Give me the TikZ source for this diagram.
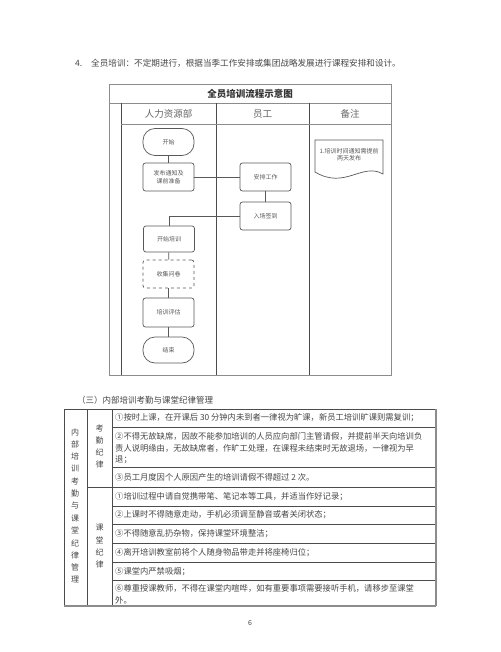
\documentclass[tikz,border=0pt]{standalone}
\usepackage{fontspec}
\setmainfont{Noto Sans CJK SC}
\usetikzlibrary{positioning}
\begin{document}
\begin{tikzpicture}[x=1pt,y=-1pt,
  txt/.style={text=black!72,inner sep=0pt},
  body/.style={txt,anchor=west,font=\fontsize{8.3}{10}\selectfont},
  vchar/.style={txt,font=\fontsize{8}{9}\selectfont},
  fbox/.style={draw=black!65,line width=0.7pt,rounded corners=2.5pt,minimum width=51pt,minimum height=28pt,text=black!65,font=\fontsize{6}{7.5}\selectfont,align=center,inner sep=1pt},
  fterm/.style={fbox,rounded corners=12pt,minimum height=27pt},
  fline/.style={draw=black!65,line width=0.7pt},
  pool/.style={draw=black!45,line width=0.7pt},
  lane/.style={draw=black!70,line width=0.7pt},
  hdr/.style={text=black!60,inner sep=0pt,font=\fontsize{9.5}{11}\selectfont},
  tline/.style={draw=black!70,line width=0.7pt},
  tedge/.style={draw=black!45,line width=1.2pt}]
\fill[white] (0,0) rectangle (500,652);
\useasboundingbox (0,0) rectangle (500,652);

% top paragraph line
\node[body,font=\fontsize{8.6}{10}\selectfont] (num4) at (75,63) {4.};
\node[body,font=\fontsize{8.6}{10}\selectfont] (para) at (91,63) {全员培训：不定期进行，根据当季工作安排或集团战略发展进行课程安排和设计。};

% ---------- flowchart frame ----------
\draw[pool] (109,84) rectangle (391,375);
\draw[pool] (109,103) -- (391,103);
\draw[lane] (121,103) -- (121,375);
\draw[lane] (216,103) -- (216,375);
\draw[lane] (309,103) -- (309,375);
\draw[pool] (121,124) -- (391,124);
\node[hdr,font=\bfseries\fontsize{9.5}{11}\selectfont,text=black!80] (title) at (250,94) {全员培训流程示意图};
\node[hdr] (h1) at (168.5,114) {人力资源部};
\node[hdr] (h2) at (262.5,114) {员工};
\node[hdr] (h3) at (350,114) {备注};

% ---------- flowchart nodes ----------
\node[fterm] (start) at (168.5,142) {开始};
\node[fbox] (fabu) at (168.5,177) {发布通知及\\课前准备};
\node[fbox] (anpai) at (265.5,177) {安排工作};
\node[fbox] (ruchang) at (265.5,216) {入场签到};
\node[fbox,minimum height=26pt] (kaishi) at (169,239) {开始培训};
\node[fbox,dashed] (shouji) at (168.5,274) {收集问卷};
\node[fbox,minimum height=29pt] (pinggu) at (168.5,312.5) {培训评估};
\node[fterm,minimum height=26pt] (jieshu) at (168.5,350) {结束};

\draw[fline] (start) -- (fabu);
\draw[fline] (fabu) -- (anpai);
\draw[fline] (anpai) -- (ruchang);
\draw[fline] (ruchang.west) -| (kaishi.north);
\draw[fline] (kaishi) -- (shouji);
\draw[fline] (shouji) -- (pinggu);
\draw[fline] (pinggu) -- (jieshu);

% document shape (note)
\draw[fline,fill=white] (315,140) -- (383,140) -- (383,174)
  .. controls (362,162) and (345,190) .. (315,172) -- cycle;
\node[txt,text=black!65,font=\fontsize{6}{7.5}\selectfont,align=center] (note) at (349,154.5) {1.培训时间通知需提前\\两天发布};

% ---------- section heading ----------
\node[body,font=\fontsize{8.5}{10}\selectfont] (sec) at (77,400) {（三）内部培训考勤与课堂纪律管理};

% ---------- table ----------
\draw[tline] (64,409) -- (436,409);
\draw[tline] (64,409) -- (64,606);
\draw[tline] (87,409) -- (87,606);
\draw[tline] (112,409) -- (112,606);
\draw[tline] (112,427) -- (436,427);
\draw[tline] (112,467) -- (436,467);
\draw[tline] (87,487) -- (436,487);
\draw[tline] (112,506) -- (436,506);
\draw[tline] (112,524) -- (436,524);
\draw[tline] (112,543) -- (436,543);
\draw[tline] (112,562) -- (436,562);
\draw[tline] (112,580) -- (436,580);
\draw[tedge] (436,409) -- (436,606);
\draw[tedge] (64,606) -- (436,606);

% vertical labels
\foreach \c [count=\i from 0] in {内,部,培,训,考,勤,与,课,堂,纪,律,管,理}
  \node[vchar] (va\i) at (75,432+12.33*\i) {\c};
\foreach \c [count=\i from 0] in {考,勤,纪,律}
  \node[vchar] (vb\i) at (99.5,428+12.3*\i) {\c};
\foreach \c [count=\i from 0] in {课,堂,纪,律}
  \node[vchar] (vc\i) at (99.5,528+12*\i) {\c};

% row texts
\node[body] (r1) at (115,418) {①按时上课，在开课后 30 分钟内未到者一律视为旷课，新员工培训旷课则需复训；};
\node[body] (r2a) at (115,436) {②不得无故缺席，因故不能参加培训的人员应向部门主管请假，并提前半天向培训负};
\node[body] (r2b) at (115,448) {责人说明缘由，无故缺席者，作旷工处理，在课程未结束时无故退场，一律视为早};
\node[body] (r2c) at (115,460) {退；};
\node[body] (r3) at (115,477) {③员工月度因个人原因产生的培训请假不得超过 2 次。};
\node[body] (r4) at (115,497) {①培训过程中请自觉携带笔、笔记本等工具，并适当作好记录；};
\node[body] (r5) at (115,515) {②上课时不得随意走动，手机必须调至静音或者关闭状态；};
\node[body] (r6) at (115,534) {③不得随意乱扔杂物，保持课堂环境整洁；};
\node[body] (r7) at (115,553) {④离开培训教室前将个人随身物品带走并将座椅归位；};
\node[body] (r8) at (115,572) {⑤课堂内严禁吸烟；};
\node[body] (r9a) at (115,588) {⑥尊重授课教师，不得在课堂内喧哗，如有重要事项需要接听手机，请移步至课堂};
\node[body] (r9b) at (115,600) {外。};

% page number
\node[txt,font=\fontsize{7}{8}\selectfont] (page) at (250,623) {6};
\end{tikzpicture}
\end{document}
